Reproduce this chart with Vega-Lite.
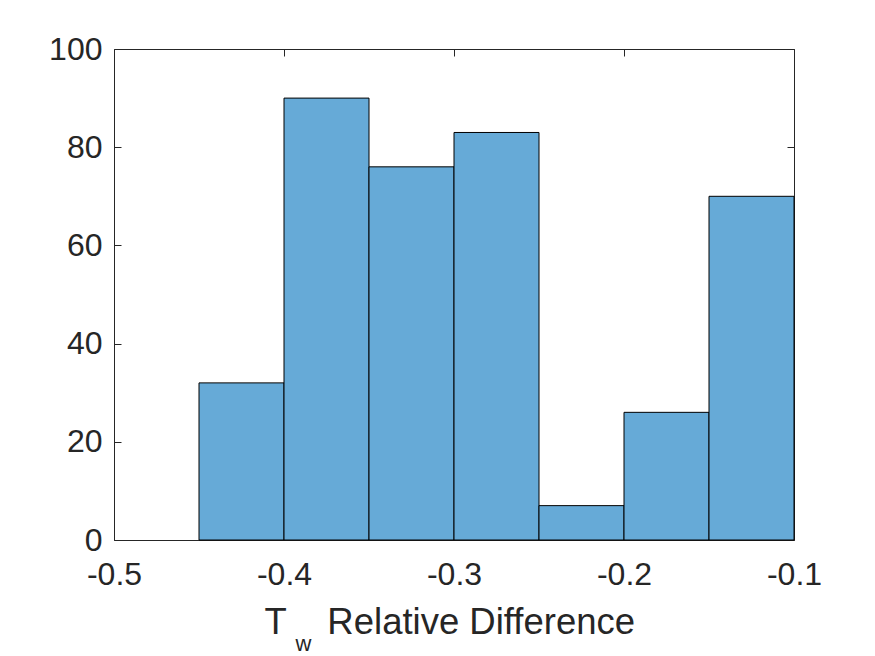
{
  "$schema": "https://vega.github.io/schema/vega-lite/v6.json",
  "autosize": "none",
  "width": 680,
  "height": 491,
  "padding": {"left": 114, "top": 49, "right": 81, "bottom": 116},
  "background": "white",
  "config": {
    "view": {"stroke": null},
    "font": "Liberation Sans",
    "axis": {
      "domainColor": "#262626",
      "tickColor": "#262626",
      "labelColor": "#262626",
      "titleColor": "#262626",
      "labelFont": "Liberation Sans",
      "titleFont": "Liberation Sans",
      "labelFontSize": 32,
      "titleFontSize": 36.5,
      "titleFontWeight": "normal",
      "grid": false,
      "domainWidth": 1,
      "tickWidth": 1
    }
  },
  "data": {
    "values": [
      {"bin_start": -0.45, "bin_end": -0.40, "count": 32},
      {"bin_start": -0.40, "bin_end": -0.35, "count": 90},
      {"bin_start": -0.35, "bin_end": -0.30, "count": 76},
      {"bin_start": -0.30, "bin_end": -0.25, "count": 83},
      {"bin_start": -0.25, "bin_end": -0.20, "count": 7},
      {"bin_start": -0.20, "bin_end": -0.15, "count": 26},
      {"bin_start": -0.15, "bin_end": -0.10, "count": 70}
    ]
  },
  "layer": [
    {
      "mark": {"type": "bar", "fill": "#66aad7", "stroke": "#000000", "strokeWidth": 1, "opacity": 1},
      "encoding": {
        "x": {
          "field": "bin_start", "type": "quantitative",
          "scale": {"domain": [-0.5, -0.1], "nice": false, "zero": false},
          "axis": {
            "orient": "bottom",
            "values": [-0.5, -0.4, -0.3, -0.2, -0.1],
            "format": ".1f",
            "labelExpr": "replace(datum.label, '\u2212', '-')",
            "tickSize": -7,
            "labelBaseline": "alphabetic",
            "labelPadding": 51,
            "labelFlush": false,
            "title": "T\u00a0\u00a0\u00a0\u00a0Relative Difference",
            "titleAlign": "left",
            "titleAnchor": "start",
            "titleX": 150,
            "titleY": 93,
            "titleBaseline": "alphabetic"
          }
        },
        "x2": {"field": "bin_end"},
        "y": {
          "field": "count", "type": "quantitative",
          "scale": {"domain": [0, 100], "nice": false},
          "axis": {
            "orient": "left",
            "values": [0, 20, 40, 60, 80, 100],
            "tickSize": -7,
            "labelPadding": 19,
            "labelFlush": false,
            "title": null
          }
        },
        "y2": {"datum": 0}
      }
    },
    {
      "mark": {"type": "bar", "opacity": 0},
      "encoding": {
        "x": {
          "field": "bin_start", "type": "quantitative",
          "axis": {
            "orient": "top",
            "values": [-0.5, -0.4, -0.3, -0.2, -0.1],
            "labels": false,
            "tickSize": -7,
            "title": "w",
            "titleFontSize": 22,
            "titleAlign": "left",
            "titleAnchor": "start",
            "titleX": 181,
            "titleY": 601,
            "titleBaseline": "alphabetic"
          }
        },
        "x2": {"field": "bin_end"},
        "y": {
          "field": "count", "type": "quantitative",
          "axis": {
            "orient": "right",
            "values": [0, 20, 40, 60, 80, 100],
            "labels": false,
            "tickSize": -7,
            "title": null
          }
        },
        "y2": {"datum": 0}
      }
    }
  ],
  "resolve": {"axis": {"x": "independent", "y": "independent"}}
}
